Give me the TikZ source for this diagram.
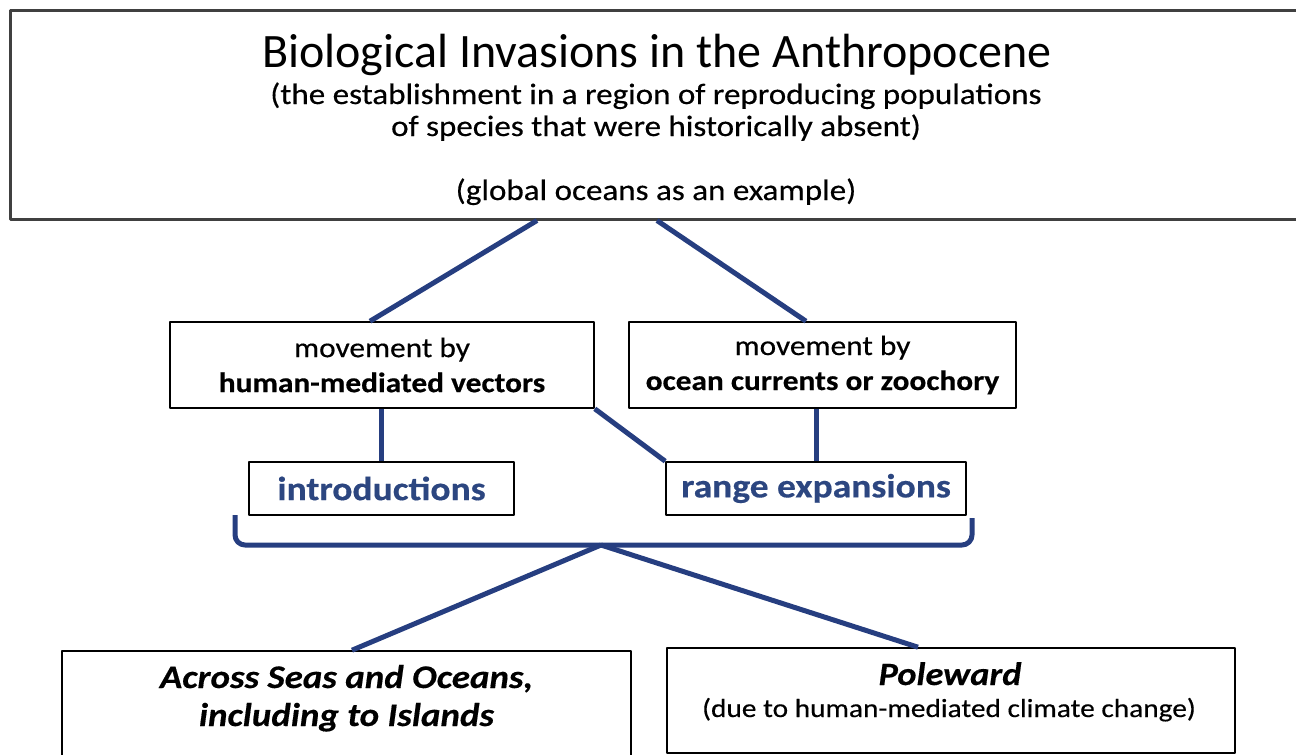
\documentclass[tikz,border=0pt]{standalone}
\usepackage{fontspec}
\setmainfont{Carlito}
\newfontfamily\widefont{Carlito}[FakeStretch=1.12, FakeBold=0.4]
\usetikzlibrary{positioning}
\definecolor{linkblue}{RGB}{38,62,128}
\definecolor{labelblue}{RGB}{44,70,128}
\definecolor{framegray}{RGB}{64,64,64}

\begin{document}
\begin{tikzpicture}[x=1pt, y=-1pt, line join=round,
	frame/.style={draw=black, line width=1.6pt, inner sep=0pt, align=center},
	link/.style={draw=linkblue, line width=5pt},
	txt/.style={inner sep=0pt, anchor=base}]
	\useasboundingbox (0,0) rectangle (1296,755);
	\node[frame, draw=framegray, line width=3pt, minimum width=1310pt, minimum height=209pt] (top) at (665,114.5) {};
	\node[txt, font=\fontsize{48}{50}\selectfont] (title) at (657,67) {Biological Invasions in the Anthropocene};
	\node[txt, font=\widefont\fontsize{29.5}{32}\selectfont] (defnA) at (656,104) {(the establishment in a region of reproducing populations};
	\node[txt, font=\widefont\fontsize{29.5}{32}\selectfont] (defnB) at (656,136) {of species that were historically absent)};
	\node[txt, font=\widefont\fontsize{29.5}{32}\selectfont] (example) at (656,200) {(global oceans as an example)};
	\node[frame, minimum width=424pt, minimum height=86pt, font=\widefont\fontsize{28}{35}\selectfont] (movL) at (382,365) {movement by\\\textbf{human-mediated vectors}};
	\node[frame, minimum width=387pt, minimum height=86pt, font=\widefont\fontsize{28}{35}\selectfont] (movR) at (822.5,365) {movement by\\\textbf{ocean currents or zoochory}};
	\node[frame, minimum width=265pt, minimum height=53pt, text=labelblue, font=\widefont\bfseries\fontsize{33.5}{36}\selectfont] (intro) at (381.5,488.5) {introductions};
	\node[frame, minimum width=300pt, minimum height=53pt, text=labelblue, font=\widefont\bfseries\fontsize{33.5}{36}\selectfont] (rng) at (816,488.5) {range expansions};
	\node[frame, minimum width=569pt, minimum height=140pt] (across) at (346.5,721) {};
	\node[txt, font=\widefont\bfseries\itshape\fontsize{33}{36}\selectfont] (acrossA) at (346.5,688) {Across Seas and Oceans,};
	\node[txt, font=\widefont\bfseries\itshape\fontsize{33}{36}\selectfont] (acrossB) at (346.5,726) {including to Islands};
	\node[frame, minimum width=568pt, minimum height=105pt] (pole) at (951,700.5) {};
	\node[txt, font=\widefont\bfseries\itshape\fontsize{32.5}{36}\selectfont] (poleA) at (950,685) {Poleward};
	\node[txt, font=\widefont\fontsize{26.2}{30}\selectfont] (poleB) at (949,717) {(due to human-mediated climate change)};
	\coordinate (hub) at (601,545);
	\draw[link] ([xshift=-128pt]top.south) -- ([xshift=-12pt]movL.north);
	\draw[link] ([xshift=-8pt]top.south) -- ([xshift=-16.5pt]movR.north);
	\draw[link] (intro.north |- movL.south) -- (intro.north);
	\draw[link] (movL.south east) -- (rng.north west);
	\draw[link] (rng.north |- movR.south) -- (rng.north);
	\draw[link, rounded corners=10pt] (235,515) -- (235,545) -- (972,545) -- (972,518);
	\draw[link] (hub) -- ([xshift=5.5pt]across.north);
	\draw[link] (hub) -- ([xshift=-33pt]pole.north);
\end{tikzpicture}
\end{document}
